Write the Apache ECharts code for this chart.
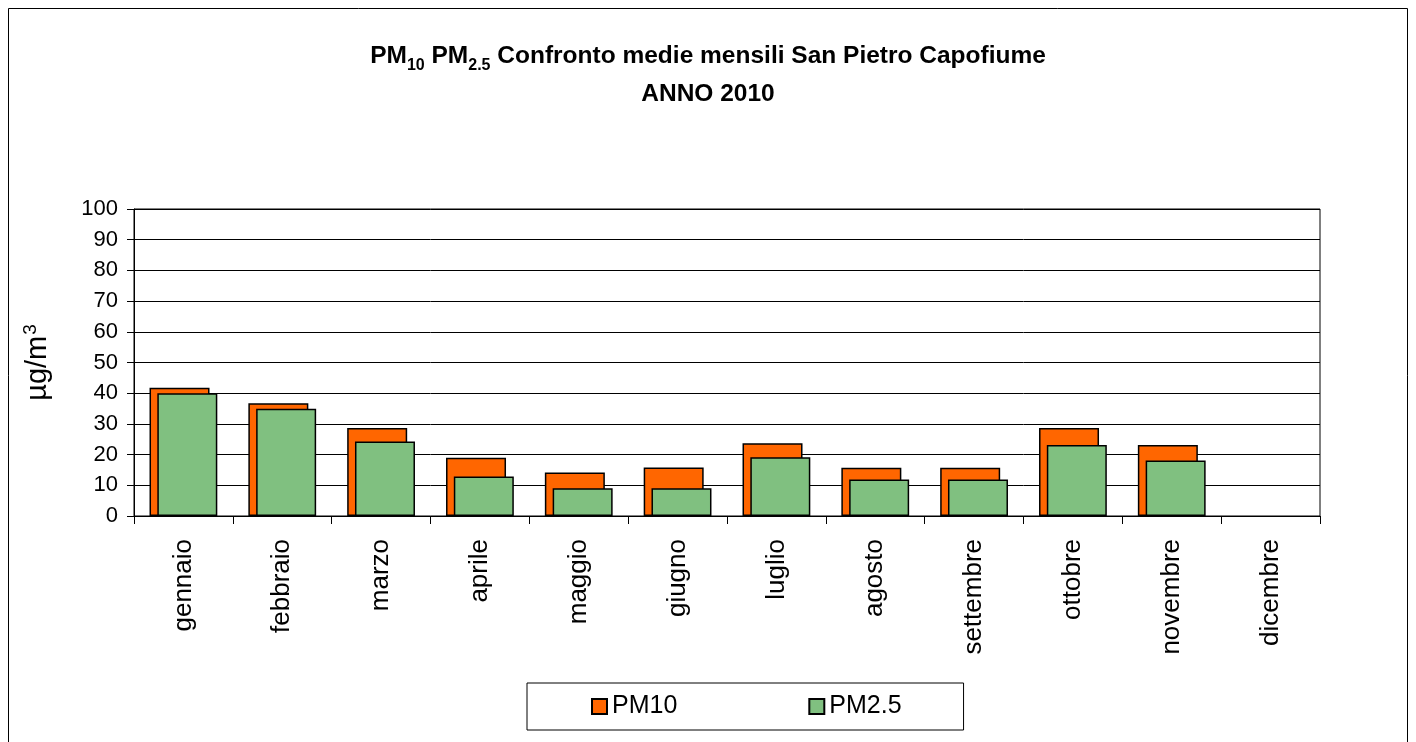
<!DOCTYPE html>
<html>
<head>
<meta charset="utf-8">
<script src="https://cdn.jsdelivr.net/npm/echarts@6/dist/echarts.min.js"></script>
<style>
  html, body { margin: 0; padding: 0; background: #fff; }
  #chart { width: 1416px; height: 742px; }
</style>
</head>
<body>
<div id="chart"></div>
<script>
// mesi e medie mensili (µg/m3)
var months = ['gennaio', 'febbraio', 'marzo', 'aprile', 'maggio', 'giugno', 'luglio', 'agosto', 'settembre', 'ottobre', 'novembre', 'dicembre'];
var pm10 = [41.8, 36.7, 28.7, 19.0, 14.2, 15.8, 23.7, 15.7, 15.7, 28.7, 23.1, null];
var pm25 = [40.0, 34.9, 24.3, 12.9, 9.0, 9.0, 19.1, 11.9, 11.9, 23.1, 18.1, null];
var yTicks = [0, 100, 10];

var FONT = '"Liberation Sans", Arial, sans-serif';
var chart = echarts.init(document.getElementById('chart'));

var option = {
    animation: false,
    backgroundColor: '#fff',
    textStyle: { fontFamily: FONT, color: '#000' },
    graphic: [
        { type: 'rect', shape: { x: 8.5, y: 8.5, width: 1399, height: 760 }, style: { fill: 'none', stroke: '#000', lineWidth: 1 }, z: -1 }
    ],
    title: {
        left: 'center',
        top: 26,
        text: '{b|PM}{s|10}{b| PM}{s|2.5}{b| Confronto medie mensili San Pietro Capofiume}\n{b|ANNO 2010}',
        textStyle: {
            fontFamily: FONT,
            rich: {
                b: { fontFamily: FONT, fontSize: 24.5, fontWeight: 'bold', color: '#000', lineHeight: 38, verticalAlign: 'bottom' },
                s: { fontFamily: FONT, fontSize: 16, fontWeight: 'bold', color: '#000', lineHeight: 38, verticalAlign: 'bottom', padding: [0, 0, -5, 0] }
            }
        }
    },
    legend: {
        left: 527,
        top: 683,
        padding: [11, 62, 11, 64],
        itemGap: 131,
        itemWidth: 15,
        itemHeight: 15,
        icon: 'rect',
        borderColor: '#000',
        borderWidth: 1,
        backgroundColor: '#fff',
        textStyle: { fontFamily: FONT, fontSize: 25, color: '#000', padding: [0, 0, 0, 0] },
        data: ['PM10', 'PM2.5']
    },
    grid: {
        left: 134, right: 96, top: 209, bottom: 226,
        show: true, borderColor: '#000', borderWidth: 1
    },
    xAxis: {
        type: 'category',
        data: months,
        boundaryGap: true,
        axisLine: { lineStyle: { color: '#000', width: 1 } },
        axisTick: { show: true, alignWithLabel: false, length: 8, lineStyle: { color: '#000' } },
        axisLabel: { rotate: 90, interval: 0, fontSize: 26, color: '#000', fontFamily: FONT, margin: 23 }
    },
    yAxis: {
        type: 'value',
        min: yTicks[0], max: yTicks[1], interval: yTicks[2],
        name: 'µg/m{sup|3}',
        nameLocation: 'middle',
        nameGap: 80,
        nameRotate: 90,
        nameTextStyle: {
            fontFamily: FONT, fontSize: 29, color: '#000',
            rich: { sup: { fontFamily: FONT, fontSize: 19, color: '#000', verticalAlign: 'top', padding: [0, 0, 14, 1] } }
        },
        axisLine: { show: true, lineStyle: { color: '#000', width: 1 } },
        axisTick: { show: true, length: 7, lineStyle: { color: '#000' } },
        axisLabel: { fontSize: 22, color: '#000', fontFamily: FONT, margin: 16 },
        splitLine: { lineStyle: { color: '#000', width: 1 } }
    },
    series: [
        {
            name: 'PM10',
            type: 'bar',
            data: pm10,
            barWidth: 60,
            barGap: '-87%',
            itemStyle: { color: '#FF6600', borderColor: '#000', borderWidth: 1.5 }
        },
        {
            name: 'PM2.5',
            type: 'bar',
            data: pm25,
            barWidth: 60,
            itemStyle: { color: '#80C080', borderColor: '#000', borderWidth: 1.5 }
        }
    ]
};

chart.setOption(option);
</script>
</body>
</html>
